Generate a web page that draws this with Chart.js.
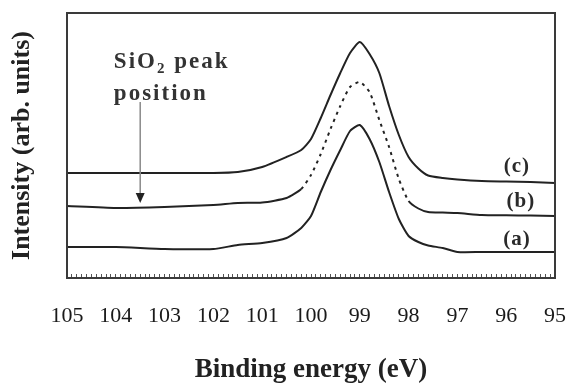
<!DOCTYPE html>
<html lang="en">
<head>
    <meta charset="UTF-8">
    <script src="https://cdn.jsdelivr.net/npm/chart.js"></script>
    <style>
        body {
            margin: 0;
            padding: 0;
            background-color: #ffffff;
        }
        #wrap {
            width: 569px;
            height: 385px;
        }
    </style>
</head>
<body>
    <div id="wrap">
        <canvas id="xps" width="569" height="385"></canvas>
    </div>
    <script>
        // binding energy (eV), shared by the three spectra
        const energy = [105, 104, 103, 102, 101.5, 101, 100.5, 100.2, 100, 99.8, 99.6, 99.4, 99.2, 99.0,
                        98.8, 98.6, 98.4, 98.2, 98.0, 97.8, 97.6, 97.3, 97, 96.5, 96, 95.5, 95];
        // intensity, arbitrary units (curves are stacked with an offset)
        const curveA = [31, 31, 29, 29, 33, 35, 40, 50, 62, 86, 108, 128, 147, 153,
                        139, 116, 86, 59, 42, 36, 32.5, 30, 26, 26, 26, 26, 26];
        const curveB = [72, 70, 71, 73, 75, 75.5, 80, 89, 103, 124, 149, 172, 191, 196,
                        186, 158, 131, 99, 77, 69.5, 66, 65.4, 65, 63, 62.7, 62.4, 62];
        const curveC = [105, 105, 105, 105, 106, 111, 121, 128, 139, 160, 183, 205, 225, 236,
                        224, 205, 172, 143, 121, 109.5, 102.5, 100, 98.5, 97, 96.5, 96, 95];
        const curveNames = ['(a)', '(b)', '(c)'];
        const xTickLabels = [105, 104, 103, 102, 101, 100, 99, 98, 97, 96, 95];

        const serif = '"Liberation Serif", "Times New Roman", serif';
        const ink = '#222222';

        const toPoints = (vals) => energy.map((e, i) => ({ x: e, y: vals[i] }));

        // (b) is dotted across the peak
        const dottedFrom = 98.0, dottedTo = 100.2;

        const notes = {
            id: 'notes',
            afterDatasetsDraw(chart, args, opts) {
                const { ctx, chartArea: a, scales: { x, y } } = chart;
                ctx.save();
                // frame
                ctx.strokeStyle = '#3a3a3a';
                ctx.lineWidth = 2;
                ctx.strokeRect(a.left, a.top, a.right - a.left, a.bottom - a.top);

                // curve names
                ctx.fillStyle = '#2a2a2a';
                ctx.font = 'bold 21px ' + serif;
                ctx.letterSpacing = '1px';
                ctx.textAlign = 'center';
                ctx.textBaseline = 'middle';
                opts.names.forEach((n) => {
                    ctx.fillText(n.text, x.getPixelForValue(n.x), y.getPixelForValue(n.y));
                });

                // SiO2 peak position note
                ctx.fillStyle = '#333333';
                ctx.textAlign = 'left';
                ctx.textBaseline = 'alphabetic';
                ctx.letterSpacing = '2px';
                const tx = x.getPixelForValue(opts.note.x);
                let ty = y.getPixelForValue(opts.note.y1);
                ctx.font = 'bold 23px ' + serif;
                ctx.fillText('SiO', tx, ty);
                let w = ctx.measureText('SiO').width;
                ctx.font = 'bold 15px ' + serif;
                ctx.fillText('2', tx + w, ty + 5);
                w += ctx.measureText('2').width;
                ctx.font = 'bold 23px ' + serif;
                ctx.fillText(' peak', tx + w, ty);
                ty = y.getPixelForValue(opts.note.y2);
                ctx.fillText('position', tx, ty);

                // arrow
                const ax = x.getPixelForValue(opts.arrow.x);
                const ay1 = y.getPixelForValue(opts.arrow.from);
                const ay2 = y.getPixelForValue(opts.arrow.to);
                ctx.strokeStyle = '#8a8a8a';
                ctx.lineWidth = 1.5;
                ctx.beginPath();
                ctx.moveTo(ax, ay1);
                ctx.lineTo(ax, ay2 - 8);
                ctx.stroke();
                ctx.fillStyle = '#222222';
                ctx.beginPath();
                ctx.moveTo(ax - 4.5, ay2 - 10);
                ctx.lineTo(ax + 4.5, ay2 - 10);
                ctx.lineTo(ax, ay2);
                ctx.closePath();
                ctx.fill();
                ctx.restore();
            }
        };

        const lineStyle = {
            borderColor: ink,
            borderWidth: 2,
            pointRadius: 0,
            tension: 0.2,
            fill: false
        };

        new Chart(document.getElementById('xps'), {
            type: 'line',
            data: {
                datasets: [
                    { label: curveNames[0], data: toPoints(curveA), ...lineStyle },
                    {
                        label: curveNames[1], data: toPoints(curveB), ...lineStyle,
                        segment: {
                            borderDash: (c) => {
                                const hi = Math.max(c.p0.parsed.x, c.p1.parsed.x);
                                const lo = Math.min(c.p0.parsed.x, c.p1.parsed.x);
                                return (hi <= dottedTo + 1e-6 && lo >= dottedFrom - 1e-6) ? [3, 4.5] : undefined;
                            }
                        }
                    },
                    { label: curveNames[2], data: toPoints(curveC), ...lineStyle }
                ]
            },
            options: {
                responsive: false,
                animation: false,
                layout: { padding: { top: 13, right: 14, left: 0, bottom: 0 } },
                plugins: {
                    legend: { display: false },
                    tooltip: { enabled: false },
                    notes: {
                        names: [
                            { text: curveNames[0], x: 95.78, y: 38 },
                            { text: curveNames[1], x: 95.70, y: 76 },
                            { text: curveNames[2], x: 95.78, y: 111 }
                        ],
                        note: { x: 104.04, y1: 210, y2: 178 },
                        arrow: { x: 103.5, from: 176, to: 75 }
                    }
                },
                scales: {
                    x: {
                        type: 'linear',
                        reverse: true,
                        min: 95,
                        max: 105,
                        border: { display: false },
                        grid: {
                            drawOnChartArea: false,
                            tickLength: -4,
                            tickColor: '#555555',
                            tickWidth: 1
                        },
                        ticks: {
                            stepSize: 0.1,
                            autoSkip: false,
                            maxTicksLimit: 200,
                            maxRotation: 0,
                            minRotation: 0,
                            padding: 29,
                            color: '#1a1a1a',
                            font: { family: serif, size: 22 },
                            callback: (v) => {
                                const r = Math.round(v);
                                return (Math.abs(v - r) < 1e-6 && xTickLabels.includes(r)) ? String(r) : '';
                            }
                        },
                        title: {
                            display: true,
                            text: 'Binding energy (eV)',
                            color: ink,
                            font: { family: serif, size: 27, weight: 'bold' },
                            padding: { top: 20, bottom: -1 }
                        },
                        afterFit: (scale) => {
                            scale.height = 107;
                            scale.paddingLeft = 0;
                            scale.paddingRight = 0;
                        }
                    },
                    y: {
                        min: 0,
                        max: 265,
                        border: { display: false },
                        grid: { display: false },
                        ticks: { display: false },
                        title: {
                            display: true,
                            text: 'Intensity (arb. units)',
                            color: ink,
                            font: { family: serif, size: 26, weight: 'bold' },
                            padding: { top: 7, bottom: 28 }
                        },
                        afterFit: (scale) => {
                            scale.width = 67;
                        }
                    }
                }
            },
            plugins: [notes]
        });
    </script>
</body>
</html>
